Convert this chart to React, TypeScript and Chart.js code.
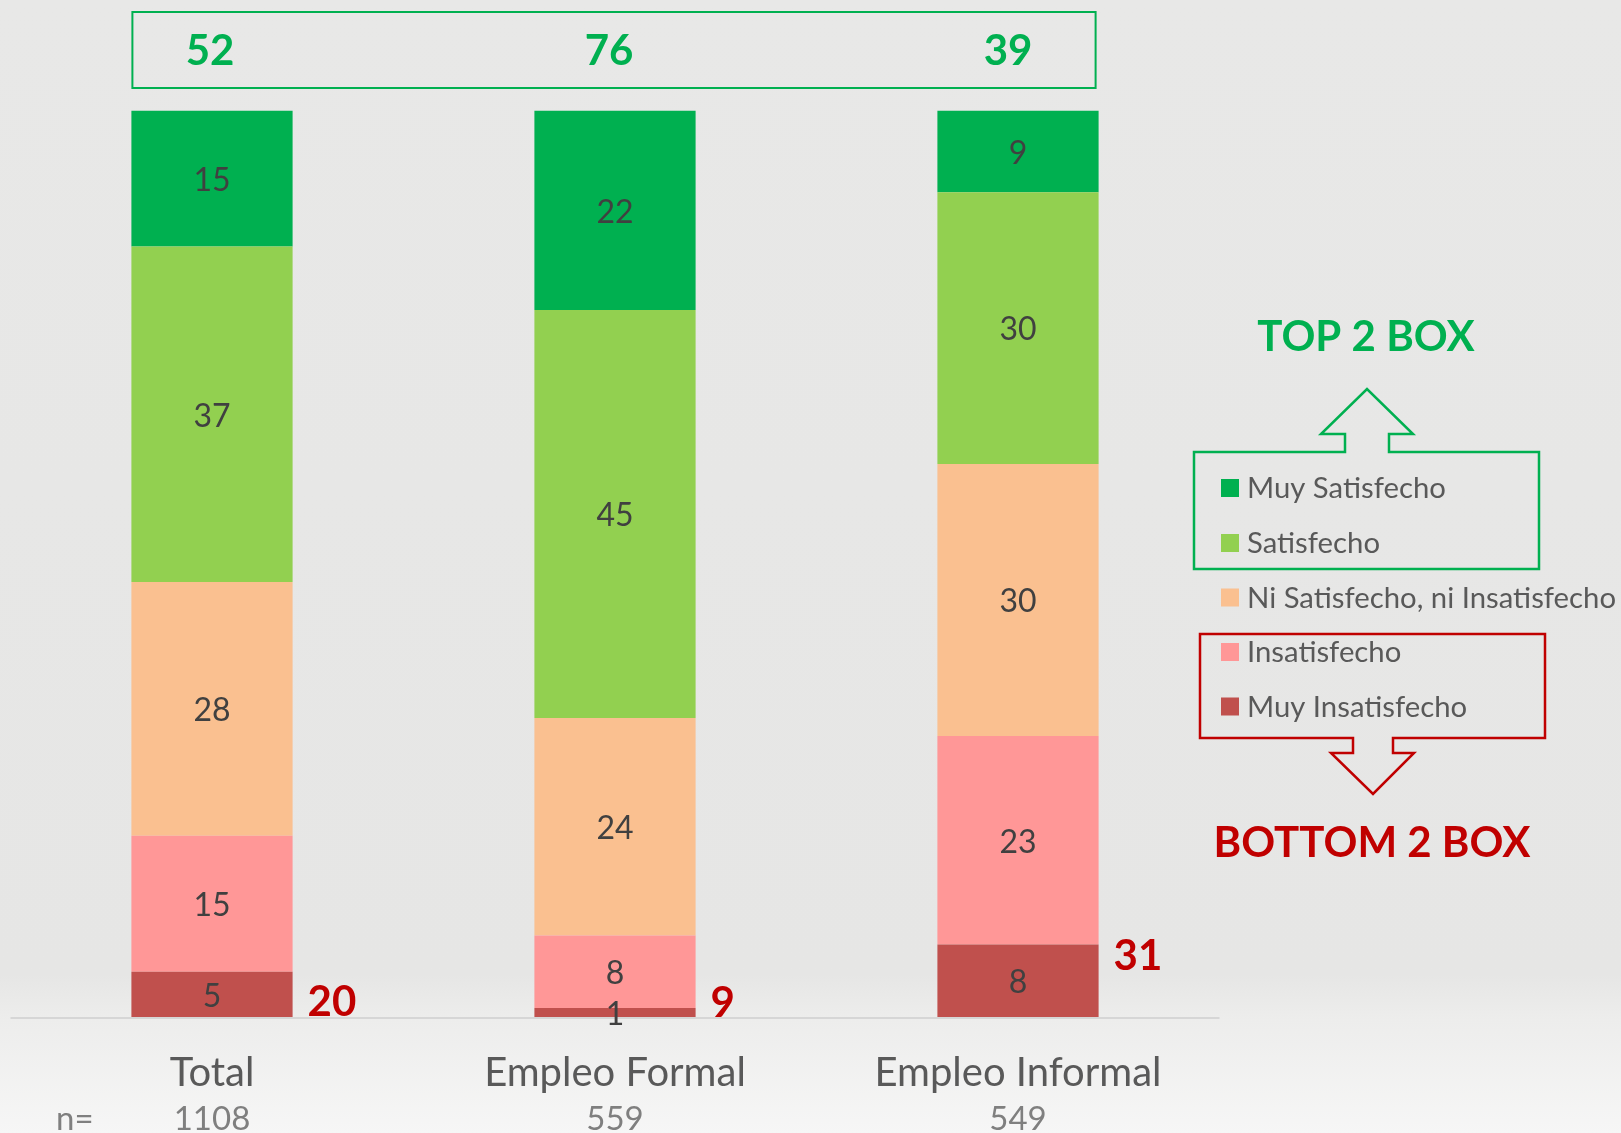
import React, { useEffect, useRef } from "react";
import { Chart, registerables } from "chart.js";

Chart.register(...registerables);

// ---- data ----
const categories = ["Total", "Empleo Formal", "Empleo Informal"];
const sampleSizes = ["1108", "559", "549"];
const muySatisfecho = [15, 22, 9];
const satisfecho = [37, 45, 30];
const niNi = [28, 24, 30];
const insatisfecho = [15, 8, 23];
const muyInsatisfecho = [5, 1, 8];
const top2Box = [52, 76, 39];
const bottom2Box = [20, 9, 31];
const bottomLabelAt = [1.6, 1.5, 6.7]; // y (in % units) where the bottom-2-box numbers sit

const seriesLabels = [
  "Muy Insatisfecho",
  "Insatisfecho",
  "Ni Satisfecho, ni Insatisfecho",
  "Satisfecho",
  "Muy Satisfecho",
];
const seriesColors = ["#C0504D", "#FF9797", "#FAC090", "#92D050", "#00B050"];

const FONT = "Lato, 'Open Sans', sans-serif";
const GREEN = "#00B050";
const RED = "#C00000";
const TEXT = "#595959";

const overlay = {
  id: "overlay",
  beforeDraw(chart: any) {
    const { ctx, width, height } = chart;
    const g = ctx.createLinearGradient(0, 0, 0, height);
    g.addColorStop(0, "#E8E8E7");
    g.addColorStop(0.86, "#E6E6E5");
    g.addColorStop(0.9, "#EDEDEC");
    g.addColorStop(1, "#F6F6F6");
    ctx.save();
    ctx.fillStyle = g;
    ctx.fillRect(0, 0, width, height);
    ctx.restore();
  },
  afterDatasetsDraw(chart: any) {
    const { ctx, chartArea } = chart;
    const xs = chart.scales.x;
    const ys = chart.scales.y;
    ctx.save();

    // baseline
    const y0 = ys.getPixelForValue(0);
    ctx.strokeStyle = "#D6D6D6";
    ctx.lineWidth = 2;
    ctx.beginPath();
    ctx.moveTo(chartArea.left, y0 + 1);
    ctx.lineTo(chartArea.right, y0 + 1);
    ctx.stroke();

    // segment labels
    ctx.textAlign = "center";
    ctx.textBaseline = "middle";
    ctx.fillStyle = "#404040";
    ctx.font = `32px ${FONT}`;
    chart.data.datasets.forEach((ds: any, di: number) => {
      const meta = chart.getDatasetMeta(di);
      meta.data.forEach((bar: any, i: number) => {
        const p = bar.getProps(["x", "y", "base"], true);
        ctx.fillText(String(ds.data[i]), p.x, (p.y + p.base) / 2 + 2);
      });
    });

    const barMeta = chart.getDatasetMeta(0);
    const halfW = barMeta.data[0].getProps(["width"], true).width / 2;

    // category labels & n
    categories.forEach((c, i) => {
      const cx = xs.getPixelForValue(i);
      ctx.fillStyle = TEXT;
      ctx.font = `40px ${FONT}`;
      ctx.fillText(c, cx, 1073);
      ctx.fillStyle = "#7F7F7F";
      ctx.font = `33px ${FONT}`;
      ctx.fillText(sampleSizes[i], cx, 1119);
    });
    ctx.textAlign = "left";
    ctx.fillStyle = "#7F7F7F";
    ctx.font = `33px ${FONT}`;
    ctx.fillText("n=", 56, 1119);

    // top 2 box frame and values
    const left0 = xs.getPixelForValue(0) - halfW;
    const right2 = xs.getPixelForValue(2) + halfW;
    ctx.strokeStyle = GREEN;
    ctx.lineWidth = 2;
    ctx.strokeRect(left0 + 1, 12, right2 - left0 - 4, 76);
    ctx.textAlign = "center";
    ctx.fillStyle = GREEN;
    ctx.font = `bold 42px ${FONT}`;
    top2Box.forEach((v, i) => {
      ctx.fillText(String(v), xs.getPixelForValue(i) - 2 - 4 * i, 51);
    });

    // bottom 2 box values
    ctx.textAlign = "left";
    ctx.fillStyle = RED;
    bottom2Box.forEach((v, i) => {
      ctx.fillText(String(v), xs.getPixelForValue(i) + halfW + 15, ys.getPixelForValue(bottomLabelAt[i]));
    });

    // legend
    const legendY = [488, 543, 597.5, 652, 706.5];
    ctx.font = `29.3px ${FONT}`;
    for (let k = 0; k < 5; k++) {
      const di = 4 - k;
      ctx.fillStyle = seriesColors[di];
      ctx.fillRect(1221, legendY[k] - 9, 18, 18);
      ctx.fillStyle = TEXT;
      ctx.textAlign = "left";
      ctx.fillText(seriesLabels[di], 1247, legendY[k] + 1);
    }

    // green frame with up arrow
    ctx.lineWidth = 2.5;
    ctx.strokeStyle = GREEN;
    ctx.beginPath();
    ctx.moveTo(1345, 452);
    ctx.lineTo(1345, 434);
    ctx.lineTo(1321, 434);
    ctx.lineTo(1367, 389);
    ctx.lineTo(1413, 434);
    ctx.lineTo(1389, 434);
    ctx.lineTo(1389, 452);
    ctx.lineTo(1539, 452);
    ctx.lineTo(1539, 569);
    ctx.lineTo(1194, 569);
    ctx.lineTo(1194, 452);
    ctx.closePath();
    ctx.stroke();

    // red frame with down arrow
    ctx.strokeStyle = RED;
    ctx.beginPath();
    ctx.moveTo(1200, 634);
    ctx.lineTo(1545, 634);
    ctx.lineTo(1545, 738);
    ctx.lineTo(1393, 738);
    ctx.lineTo(1393, 753);
    ctx.lineTo(1414, 753);
    ctx.lineTo(1373, 794);
    ctx.lineTo(1331, 753);
    ctx.lineTo(1353, 753);
    ctx.lineTo(1353, 738);
    ctx.lineTo(1200, 738);
    ctx.closePath();
    ctx.stroke();

    // titles
    ctx.textAlign = "center";
    ctx.font = `bold 42px ${FONT}`;
    ctx.fillStyle = GREEN;
    ctx.fillText("TOP 2 BOX", 1366, 337);
    ctx.fillStyle = RED;
    ctx.fillText("BOTTOM 2 BOX", 1372, 843);

    ctx.restore();
  },
};

export default function App() {
  const ref = useRef<HTMLCanvasElement | null>(null);
  useEffect(() => {
    if (!ref.current) return;
    const values = [muyInsatisfecho, insatisfecho, niNi, satisfecho, muySatisfecho];
    const chart = new Chart(ref.current, {
      type: "bar",
      data: {
        labels: categories,
        datasets: values.map((d, i) => ({
          label: seriesLabels[i],
          data: d,
          backgroundColor: seriesColors[i],
          borderWidth: 0,
          barPercentage: 0.4,
          categoryPercentage: 1,
        })),
      },
      options: {
        responsive: false,
        animation: false,
        devicePixelRatio: 1,
        layout: { padding: { top: 110.6, left: 10.5, right: 401.5, bottom: 116 } },
        plugins: { legend: { display: false }, tooltip: { enabled: false } },
        scales: {
          x: { stacked: true, display: false },
          y: { stacked: true, display: false, min: 0, max: 100 },
        },
      },
      plugins: [overlay],
    });
    return () => chart.destroy();
  }, []);
  return (
    <div style={{ position: "absolute", left: 0, top: 0, width: 1621, height: 1133, overflow: "hidden" }}>
      <canvas ref={ref} width={1621} height={1133} style={{ display: "block", width: 1621, height: 1133 }} />
    </div>
  );
}
